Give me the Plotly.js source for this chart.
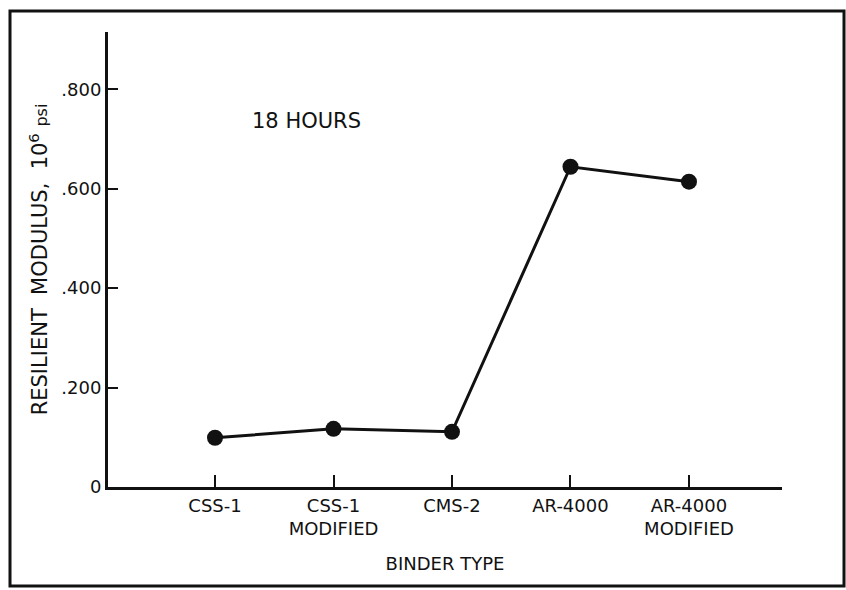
<!DOCTYPE html>
<html>
<head>
<meta charset="utf-8">
<script src="https://cdn.plot.ly/plotly-3.0.1.min.js"></script>
<style>html,body{margin:0;padding:0;background:#fff;}#chart{width:846px;height:590px;}</style>
</head>
<body>
<div id="chart"></div>
<script>
var categories = ["CSS-1", "CSS-1<br>MODIFIED", "CMS-2", "AR-4000", "AR-4000<br>MODIFIED"];
var modulus = [0.099, 0.117, 0.111, 0.644, 0.614];
var yTickVals = [0, 0.2, 0.4, 0.6, 0.8];
var yTickText = ["0", ".200", ".400", ".600", ".800"];
var annotationText = "18 HOURS";

var font = "DejaVu Sans, Verdana, sans-serif";

var trace = {
  x: categories,
  y: modulus,
  type: "scatter",
  mode: "lines+markers",
  line: {color: "#111", width: 3},
  marker: {color: "#111", size: 16},
  showlegend: false,
  hoverinfo: "skip"
};

var layout = {
  width: 846,
  height: 590,
  margin: {l: 108, r: 64, t: 32, b: 103},
  paper_bgcolor: "#fff",
  plot_bgcolor: "#fff",
  font: {family: font, color: "#111", size: 16},
  xaxis: {
    type: "category",
    range: [-0.903, 4.785],
    showgrid: false,
    zeroline: false,
    showline: true,
    linecolor: "#111",
    linewidth: 3,
    ticks: "inside",
    ticklen: 12,
    tickwidth: 2,
    tickcolor: "#111",
    tickfont: {family: font, size: 18, color: "#111"},
    title: {text: "BINDER TYPE", font: {family: font, size: 18, color: "#111"}, standoff: 20}
  },
  yaxis: {
    range: [0, 0.915],
    showgrid: false,
    zeroline: false,
    showline: true,
    linecolor: "#111",
    linewidth: 3,
    ticks: "inside",
    ticklen: 10,
    tickwidth: 2,
    tickcolor: "#111",
    tickvals: yTickVals,
    ticktext: yTickText,
    tickfont: {family: font, size: 18, color: "#111"},
    title: {text: "RESILIENT  MODULUS,  10<sup>6</sup> <span style='font-size:16px'>psi</span>", font: {family: font, size: 21, color: "#111"}, standoff: 8}
  },
  annotations: [{
    xref: "paper", yref: "paper",
    x: 0.295, y: 0.805,
    xanchor: "center", yanchor: "middle",
    text: annotationText,
    showarrow: false,
    font: {family: font, size: 21, color: "#111"}
  }],
  shapes: [{
    type: "rect", xref: "paper", yref: "paper",
    x0: -0.1454, x1: 1.092, y0: -0.2176, y1: 1.046,
    line: {color: "#111", width: 3}
  }]
};

Plotly.newPlot("chart", [trace], layout, {displayModeBar: false, staticPlot: true});
</script>
</body>
</html>
